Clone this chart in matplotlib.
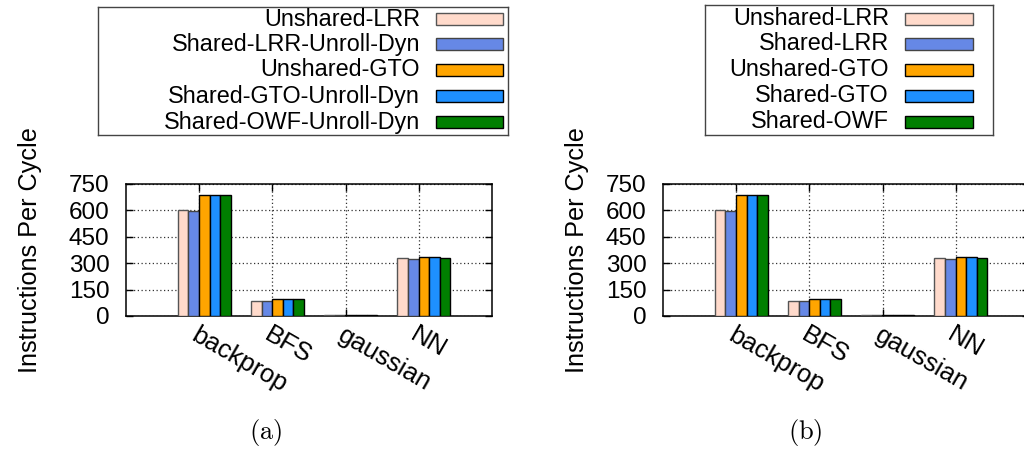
import numpy as np
import matplotlib.pyplot as plt
from matplotlib.patches import Rectangle

plt.rcParams['font.family'] = ['Liberation Sans', 'DejaVu Sans']
plt.rcParams['mathtext.fontset'] = 'cm'

benchmarks = ['backprop', 'BFS', 'gaussian', 'NN']

labels_a = ['Unshared-LRR', 'Shared-LRR-Unroll-Dyn', 'Unshared-GTO',
            'Shared-GTO-Unroll-Dyn', 'Shared-OWF-Unroll-Dyn']
labels_b = ['Unshared-LRR', 'Shared-LRR', 'Unshared-GTO',
            'Shared-GTO', 'Shared-OWF']

# instructions per cycle, one row per scheduler, one column per benchmark
ipc_a = [[600, 84, 6, 327],
         [598, 84, 6, 325],
         [689, 95, 6, 333],
         [689, 95, 6, 333],
         [689, 95, 6, 331]]
ipc_b = [[600, 84, 6, 327],
         [598, 84, 6, 325],
         [689, 94, 6, 333],
         [689, 94, 6, 333],
         [689, 94, 6, 331]]

colors = ['#ffdacb', '#6688e6', '#ffa500', '#1e90ff', '#007f00']
edges = ['#555555', '#444444', 'black', 'black', 'black']

W, H = 1024, 451
fig = plt.figure(figsize=(W / 100, H / 100), dpi=100)


def px_axes(x0, y0, x1, y1):
    return fig.add_axes([x0 / W, 1 - y1 / H, (x1 - x0) / W, (y1 - y0) / H])


def draw_panel(ax, data):
    x = np.arange(1, len(benchmarks) + 1)
    bw = 0.145
    n = len(data)
    for j, vals in enumerate(data):
        ax.bar(x + 0.07 + (j - (n - 1) / 2) * bw, vals, bw,
               color=colors[j], edgecolor=edges[j], linewidth=1.0, zorder=3)
    ax.set_xlim(0, 5)
    ax.set_ylim(0, 750)
    ax.set_yticks(np.arange(0, 751, 150))
    ax.set_xticks(x)
    ax.set_xticklabels(benchmarks)
    ax.tick_params(direction='in', length=5, top=True, right=True, width=1)
    ax.tick_params(axis='y', pad=12, labelsize=17.5)
    ax.tick_params(axis='x', pad=5, labelsize=18.5)
    plt.setp(ax.get_xticklabels(), rotation=-30, ha='left', va='top',
             rotation_mode='anchor')
    ax.grid(True, linestyle=(0, (1, 2)), color='#333333', linewidth=0.9,
            zorder=0)
    ax.set_axisbelow(True)
    for s in ax.spines.values():
        s.set_linewidth(1.1)


def draw_legend(box, labels, text_right, sw0, sw1):
    x0, y0, x1, y1 = box
    lax = px_axes(x0, y0, x1, y1)
    lax.set_xlim(x0, x1)
    lax.set_ylim(y1, y0)
    lax.set_xticks([])
    lax.set_yticks([])
    for s in lax.spines.values():
        s.set_linewidth(1.0)
        s.set_color('#444444')
    rows = [19, 44, 70, 96, 122]
    for lab, yc, c, e in zip(labels, rows, colors, edges):
        lax.text(text_right, yc, lab, ha='right', va='center', fontsize=16.8)
        lax.add_patch(Rectangle((sw0, yc - 6), sw1 - sw0, 12,
                                facecolor=c, edgecolor=e, linewidth=1.0))


ax_a = px_axes(126, 184, 492, 316)
draw_panel(ax_a, ipc_a)
ax_b = px_axes(663, 184, 1029, 316)
draw_panel(ax_b, ipc_b)

draw_legend((98, 7, 508, 135), labels_a, 420, 436, 503)
draw_legend((705, 5, 993, 135), labels_b, 889, 905, 973)

fig.text(30 / W, 1 - 250 / H, 'Instructions Per Cycle', rotation=90,
         ha='center', va='center', fontsize=18.2)
fig.text(577 / W, 1 - 250 / H, 'Instructions Per Cycle', rotation=90,
         ha='center', va='center', fontsize=18.2)

fig.text(266 / W, 1 - 433 / H, r'$\mathrm{(a)}$', ha='center', va='center',
         fontsize=19)
fig.text(805 / W, 1 - 433 / H, r'$\mathrm{(b)}$', ha='center', va='center',
         fontsize=19)

fig.savefig('out.png', dpi=100)
